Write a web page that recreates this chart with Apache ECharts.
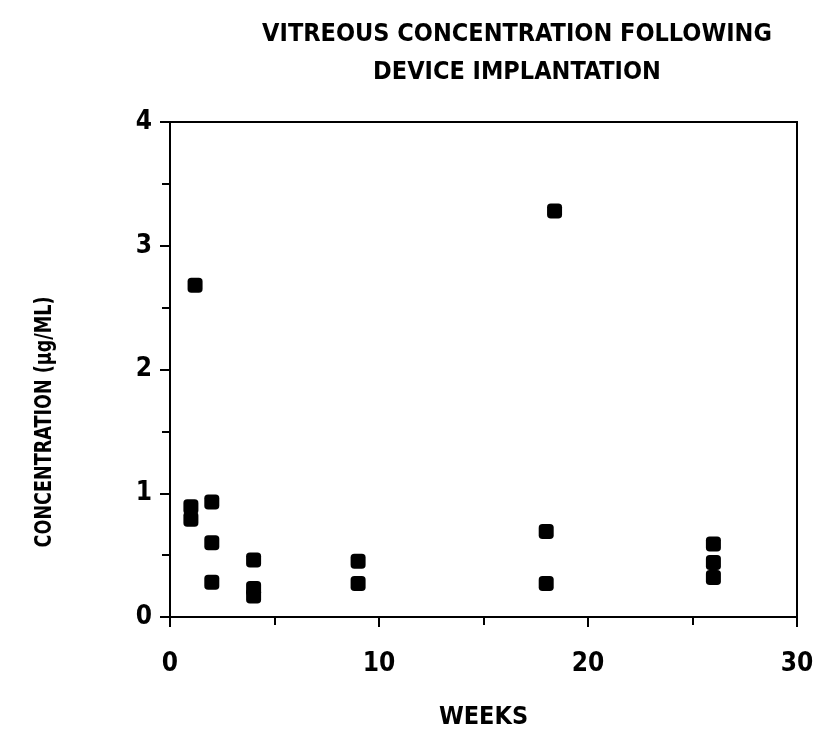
<!DOCTYPE html>
<html>
<head>
<meta charset="utf-8">
<script src="https://cdn.jsdelivr.net/npm/echarts@6/dist/echarts.min.js"></script>
<style>
  html, body { margin: 0; padding: 0; background: #fff; }
  #chart { width: 819px; height: 740px; }
</style>
</head>
<body>
<div id="chart"></div>
<script>
// weeks after implantation and vitreous concentration (ug/mL)
var weeks = [1, 1, 1.2, 2, 2, 2, 4, 4, 4, 9, 9, 18, 18, 18.4, 26, 26, 26];
var concentration = [0.89, 0.79, 2.68, 0.93, 0.6, 0.28, 0.46, 0.23, 0.17, 0.45, 0.27, 0.69, 0.27, 3.28, 0.59, 0.44, 0.32];
var xTicks = [0, 10, 20, 30];
var yTicks = [0, 1, 2, 3, 4];

var font = '"DejaVu Sans Condensed", "Liberation Sans Narrow", sans-serif';

var chart = echarts.init(document.getElementById('chart'));
var option = {
  animation: false,
  backgroundColor: '#fff',
  title: {
    text: 'VITREOUS CONCENTRATION FOLLOWING\nDEVICE IMPLANTATION',
    left: 512,
    top: 10,
    textAlign: 'center',
    textStyle: {
      fontFamily: font,
      fontWeight: 'bold',
      fontSize: 25,
      lineHeight: 38,
      color: '#000'
    }
  },
  // y-axis title drawn as rotated, slightly narrowed text
  graphic: [{
    type: 'text',
    x: 45,
    y: 422,
    rotation: Math.PI / 2,
    scaleX: 0.85,
    style: {
      text: 'CONCENTRATION (\u03bcg/ML)',
      fontFamily: font,
      fontWeight: 'bold',
      fontSize: 23,
      fill: '#000',
      align: 'center',
      verticalAlign: 'middle'
    }
  }],
  grid: {
    left: 170,
    right: 22,
    top: 122,
    bottom: 123,
    show: true,
    borderColor: '#000',
    borderWidth: 2
  },
  xAxis: {
    type: 'value',
    min: 0,
    max: 30,
    interval: 10,
    name: 'WEEKS',
    nameLocation: 'middle',
    nameGap: 88,
    nameTextStyle: { fontFamily: font, fontWeight: 'bold', fontSize: 25, color: '#000' },
    axisLine: { lineStyle: { color: '#000', width: 2 } },
    axisTick: { show: true, length: 10, lineStyle: { color: '#000', width: 2 } },
    minorTick: { show: true, splitNumber: 2, length: 8, lineStyle: { color: '#000', width: 2 } },
    splitLine: { show: false },
    axisLabel: {
      margin: 34,
      fontFamily: font, fontWeight: 'bold', fontSize: 26, color: '#000',
      formatter: function (v) { return xTicks.indexOf(v) >= 0 ? String(v) : ''; }
    }
  },
  yAxis: {
    type: 'value',
    min: 0,
    max: 4,
    interval: 1,
    axisLine: { lineStyle: { color: '#000', width: 2 } },
    axisTick: { show: true, length: 10, lineStyle: { color: '#000', width: 2 } },
    minorTick: { show: true, splitNumber: 2, length: 8, lineStyle: { color: '#000', width: 2 } },
    splitLine: { show: false },
    axisLabel: {
      margin: 18,
      fontFamily: font, fontWeight: 'bold', fontSize: 26, color: '#000',
      formatter: function (v) { return yTicks.indexOf(v) >= 0 ? String(v) : ''; }
    }
  },
  series: [{
    type: 'scatter',
    data: weeks.map(function (w, i) { return [w, concentration[i]]; }),
    symbol: 'roundRect',
    symbolSize: 15,
    itemStyle: { color: '#000', opacity: 1 }
  }]
};
chart.setOption(option);
</script>
</body>
</html>
